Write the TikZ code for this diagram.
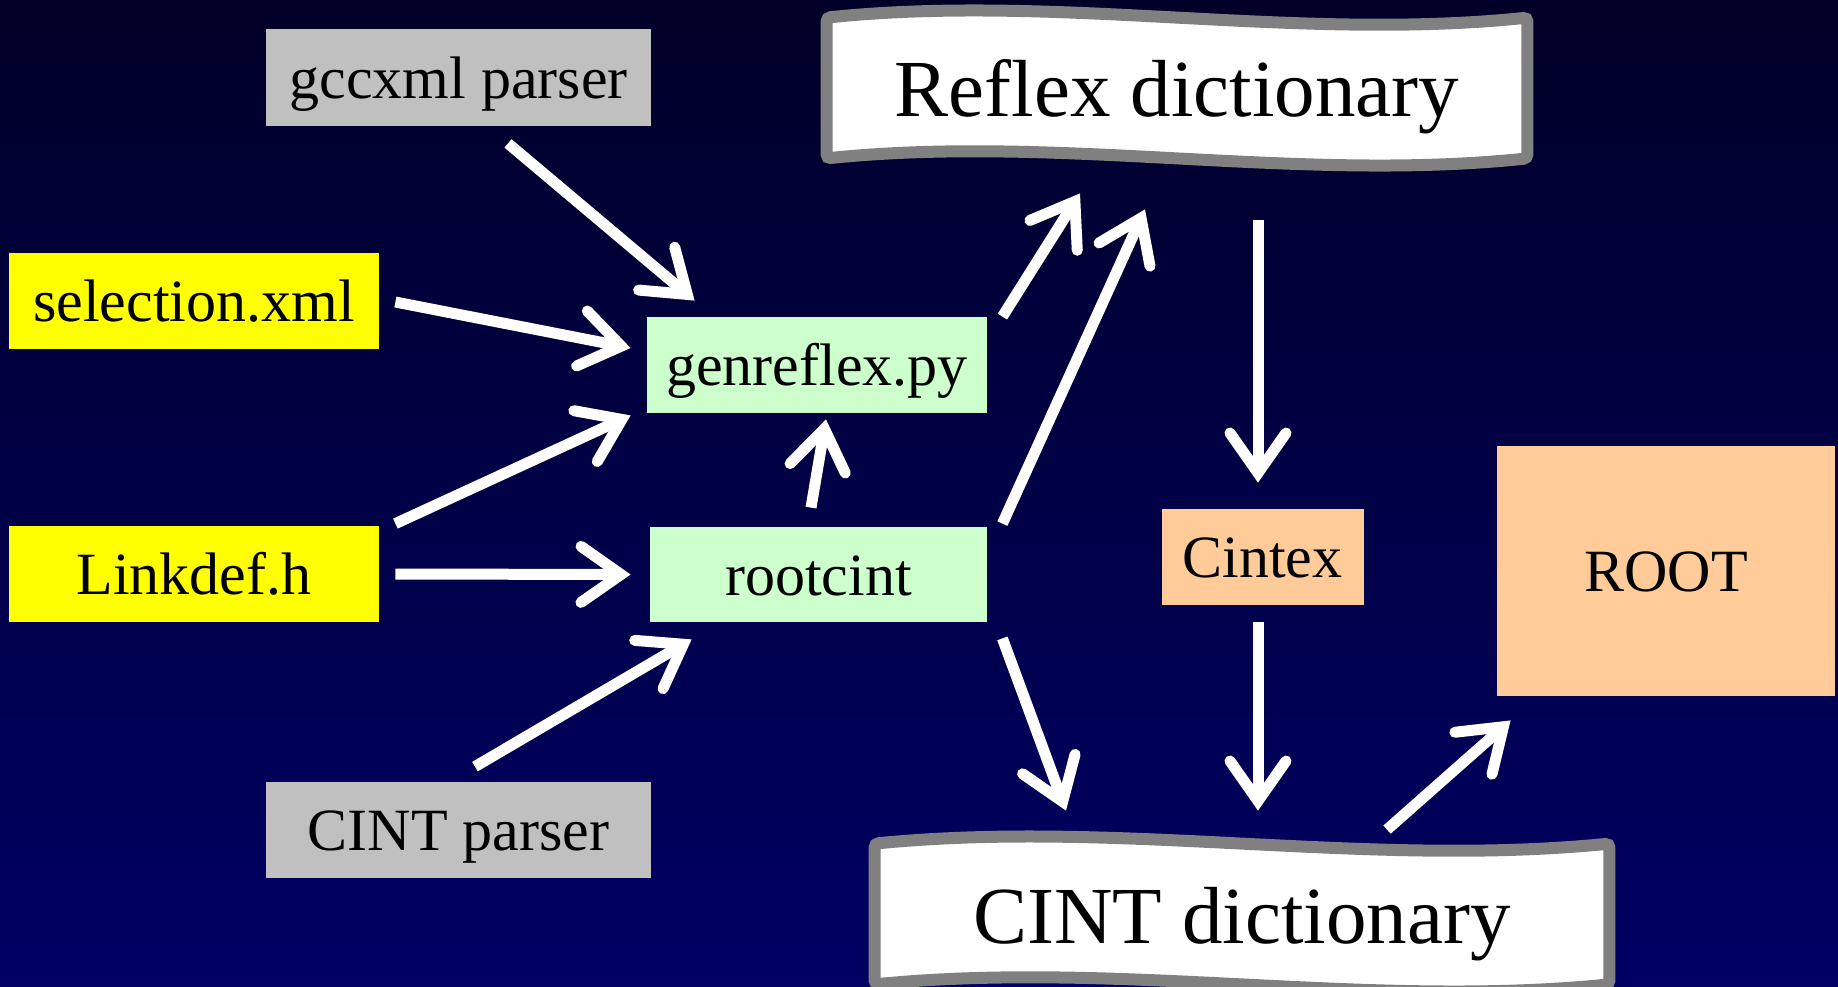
\documentclass[tikz,border=0pt]{standalone}
\usepackage{fontspec}
\setmainfont{Liberation Serif}
\usetikzlibrary{arrows.meta}
\definecolor{bgtop}{RGB}{0,0,40}
\definecolor{bgbot}{RGB}{0,0,100}
\definecolor{gccgray}{HTML}{C0C0C0}
\definecolor{yel}{HTML}{FFFF00}
\definecolor{grn}{HTML}{CCFFCC}
\definecolor{peach}{HTML}{FFCC99}
\definecolor{bannergray}{HTML}{808080}
\pgfdeclarelayer{back}
\pgfdeclarelayer{mid}
\pgfsetlayers{back,mid,main}
\begin{document}
\begin{tikzpicture}[x=0.5pt,y=-0.5pt,
  box/.style={rectangle,inner sep=0pt,text height=24pt,text depth=3.5pt,
    font=\fontsize{30}{36}\selectfont,text=black},
  arr/.style={draw=white,line width=5.5pt,
    -{Straight Barb[length=20pt,width=28pt,line cap=round,line join=miter]}},
  banner/.style={draw=bannergray,line width=6pt,fill=white,rounded corners=2pt},
  bannertext/.style={inner sep=0pt,text=black,font=\fontsize{40.5}{48}\selectfont}]

\useasboundingbox (0,0) rectangle (1838,986);
\begin{pgfonlayer}{back}
\clip (0,0) rectangle (1838,986);
\shade[top color=bgtop,bottom color=bgbot] (0,0) rectangle (1838,986);
\end{pgfonlayer}

% boxes
\node[box,fill=gccgray,minimum width=192.5pt,minimum height=48.5pt] (gcc) at (458.5,77.5) {gccxml parser};
\node[box,fill=yel,minimum width=185pt,minimum height=48pt] (sel) at (194,301) {selection.xml};
\node[box,fill=yel,minimum width=185pt,minimum height=48pt] (link) at (194,574) {Linkdef.h};
\node[box,fill=gccgray,minimum width=192.5pt,minimum height=48pt] (cintp) at (458.5,830) {CINT parser};
\node[box,fill=grn,minimum width=170pt,minimum height=48pt] (genr) at (817,365) {genreflex.py};
\node[box,fill=grn,minimum width=168.5pt,minimum height=47.5pt] (rootc) at (818.5,574.5) {rootcint};
\node[box,fill=peach,minimum width=101pt,minimum height=48pt] (cintex) at (1262.5,557) {Cintex};
\node[box,fill=peach,minimum width=169pt,minimum height=125pt] (root) at (1666,571) {ROOT};

% banners
\node[bannertext,minimum width=356pt,minimum height=76pt,text height=33pt,text depth=5pt] (reflex) at (1177,88) {Reflex dictionary};
\node[bannertext,minimum width=373pt,minimum height=76pt,text height=34pt,text depth=5pt] (cintd) at (1242,914) {CINT dictionary};
\begin{pgfonlayer}{mid}
\draw[banner] ([shift={(6,6)}]reflex.north west) .. controls +(233,-24) and +(-233,24) .. ([shift={(-6,6)}]reflex.north east)
  -- ([shift={(-6,-6)}]reflex.south east) .. controls +(-233,24) and +(233,-24) .. ([shift={(6,-6)}]reflex.south west) -- cycle;
\draw[banner] ([shift={(6,6)}]cintd.north west) .. controls +(245,-24) and +(-245,24) .. ([shift={(-6,6)}]cintd.north east)
  -- ([shift={(-6,-6)}]cintd.south east) .. controls +(-245,24) and +(245,-24) .. ([shift={(6,-6)}]cintd.south west) -- cycle;
\end{pgfonlayer}

% arrows
\draw[arr] ([shift={(49.5,17)}]gcc.south) -- ([shift={(48,-16)}]genr.north west);
\draw[arr] ([shift={(16,1)}]sel.east) -- ([shift={(-16,-17)}]genr.west);
\draw[arr] ([shift={(16,-2)}]link.north east) -- ([shift={(-16,2)}]genr.south west);
\draw[arr] ([shift={(16,0)}]link.east) -- ([shift={(-19,0)}]rootc.west);
\draw[arr] ([shift={(16.5,-15)}]cintp.north) -- ([shift={(42,17)}]rootc.south west);
\draw[arr] ([shift={(-7.5,-19)}]rootc.north) -- ([shift={(9,6)}]genr.south);
\draw[arr] ([shift={(15,0)}]genr.north east) -- ([shift={(-97,29)}]reflex.south);
\draw[arr] ([shift={(15,-3)}]rootc.north east) -- ([shift={(-32,45)}]reflex.south);
\draw[arr] ([shift={(15,16)}]rootc.south east) -- ([shift={(-176,-27)}]cintd.north);
\draw[arr] ([shift={(81,56)}]reflex.south) -- ([shift={(-4.5,-26)}]cintex.north);
\draw[arr] ([shift={(-4.5,17)}]cintex.south) -- ([shift={(16,-27)}]cintd.north);
\draw[arr] ([shift={(145,-8)}]cintd.north) -- ([shift={(14,24)}]root.south west);
\end{tikzpicture}
\end{document}
